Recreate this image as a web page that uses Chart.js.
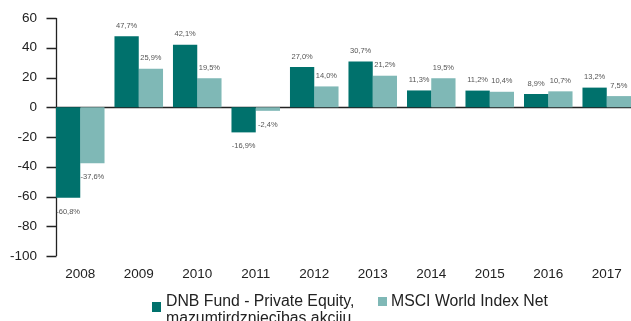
<!DOCTYPE html>
<html lang="lv">
<head>
<meta charset="utf-8">
<title>DNB Fund - Private Equity</title>
<script src="https://cdn.jsdelivr.net/npm/chart.js@4/dist/chart.umd.min.js"></script>
<style>
    html, body {
        margin: 0;
        padding: 0;
        background: #fff;
        overflow: hidden;
    }
    .chart-wrap {
        position: relative;
        width: 636px;
        height: 321px;
    }
    .legend {
        font-family: "Liberation Sans", Arial, sans-serif;
        font-size: 15.8px;
        line-height: 17px;
        color: #222;
    }
    .legend .box {
        position: absolute;
        width: 9px;
        height: 10px;
    }
    .legend .text {
        position: absolute;
        top: 292px;
        white-space: nowrap;
    }
</style>
</head>
<body>
<div class="chart-wrap">
    <canvas id="returnsChart" width="636" height="321"></canvas>
    <div class="legend">
        <span class="box" id="legendBoxFund" style="left:152px;top:302px;"></span>
        <span class="text" style="left:166px;">DNB Fund - Private Equity,<br>mazumtirdzniecības akciju</span>
        <span class="box" id="legendBoxIndex" style="left:378px;top:297px;height:9px;"></span>
        <span class="text" style="left:391px;">MSCI World Index Net</span>
    </div>
</div>
<script>
// Yearly returns, %
const years = ['2008', '2009', '2010', '2011', '2012', '2013', '2014', '2015', '2016', '2017'];
const fundReturns = [-60.8, 47.7, 42.1, -16.9, 27.0, 30.7, 11.3, 11.2, 8.9, 13.2];
const indexReturns = [-37.6, 25.9, 19.5, -2.4, 14.0, 21.2, 19.5, 10.4, 10.7, 7.5];
const seriesNames = ['DNB Fund - Private Equity, mazumtirdzniecības akciju', 'MSCI World Index Net'];

const yMin = -100;
const yMax = 60;
const yStep = 20;

const COLOR_FUND = '#00716c';
const COLOR_INDEX = '#7fb8b6';
const FONT = '"Liberation Sans", Arial, sans-serif';

// Format a return like 47,7%
function formatPercent(value) {
    return value.toFixed(1).replace('.', ',') + '%';
}

// Axis line, tick marks and zero line, starting at the first bar
const axisLines = {
    id: 'axisLines',
    beforeDatasetsDraw(chart) {
        const ctx = chart.ctx;
        const y = chart.scales.y;
        const first = chart.getDatasetMeta(0).data[0];
        const axisX = Math.round(first.x - first.width / 2) + 0.5;
        const zeroY = Math.round(y.getPixelForValue(0)) + 0.5;

        ctx.save();
        ctx.strokeStyle = '#222';
        ctx.lineWidth = 1.3;
        ctx.beginPath();
        ctx.moveTo(axisX, y.top);
        ctx.lineTo(axisX, y.bottom);
        y.ticks.forEach(t => {
            const py = Math.round(y.getPixelForValue(t.value)) + 0.5;
            ctx.moveTo(axisX - 10, py);
            ctx.lineTo(axisX, py);
        });
        ctx.moveTo(axisX, zeroY);
        ctx.lineTo(chart.chartArea.right, zeroY);
        ctx.stroke();
        ctx.restore();
    }
};

// Value labels above positive bars and below negative ones
const valueLabels = {
    id: 'valueLabels',
    afterDatasetsDraw(chart) {
        const ctx = chart.ctx;
        ctx.save();
        ctx.font = '7.5px ' + FONT;
        ctx.fillStyle = '#555';
        ctx.textAlign = 'center';
        ctx.textBaseline = 'middle';
        chart.data.datasets.forEach((ds, i) => {
            chart.getDatasetMeta(i).data.forEach((bar, j) => {
                const v = ds.data[j];
                const ty = v >= 0 ? bar.y - 10.5 : bar.y + 14;
                ctx.fillText(formatPercent(v), bar.x, ty);
            });
        });
        ctx.restore();
    }
};

function initReturnsChart() {
    const ctx = document.getElementById('returnsChart').getContext('2d');

    const data = {
        labels: years,
        datasets: [{
            label: seriesNames[0],
            data: fundReturns,
            backgroundColor: COLOR_FUND
        }, {
            label: seriesNames[1],
            data: indexReturns,
            backgroundColor: COLOR_INDEX
        }]
    };

    const config = {
        type: 'bar',
        data: data,
        options: {
            responsive: false,
            animation: false,
            devicePixelRatio: 1,
            layout: {
                padding: { top: 18, left: 0, right: 0, bottom: 0 }
            },
            datasets: {
                bar: {
                    categoryPercentage: 0.83,
                    barPercentage: 1.0
                }
            },
            plugins: {
                legend: { display: false },
                tooltip: { enabled: false }
            },
            scales: {
                x: {
                    grid: { display: false, drawTicks: false },
                    border: { display: false },
                    ticks: {
                        color: '#222',
                        font: { family: FONT, size: 13.5 },
                        padding: 10,
                        maxRotation: 0
                    },
                    afterFit: scale => { scale.height = 65; }
                },
                y: {
                    min: yMin,
                    max: yMax,
                    grid: { display: false, drawTicks: false },
                    border: { display: false },
                    ticks: {
                        stepSize: yStep,
                        color: '#222',
                        font: { family: FONT, size: 13.5 },
                        padding: 14
                    },
                    // fixed width; label padding should not shrink the plot vertically
                    afterFit: scale => {
                        scale.width = 51;
                        scale.paddingTop = 0;
                        scale.paddingBottom = 0;
                    }
                }
            }
        },
        plugins: [axisLines, valueLabels]
    };

    new Chart(ctx, config);
}

document.addEventListener('DOMContentLoaded', () => {
    document.getElementById('legendBoxFund').style.background = COLOR_FUND;
    document.getElementById('legendBoxIndex').style.background = COLOR_INDEX;
    initReturnsChart();
});
</script>
</body>
</html>
